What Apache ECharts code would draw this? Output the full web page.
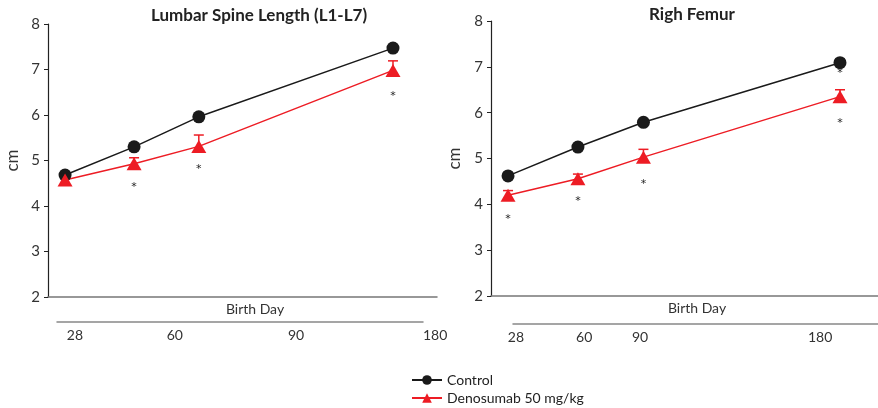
<!DOCTYPE html>
<html>
<head>
<meta charset="utf-8">
<script src="https://cdn.jsdelivr.net/npm/echarts@6/dist/echarts.min.js"></script>
<style>
  html, body { margin: 0; padding: 0; background: #fff; }
  #chart { width: 878px; height: 408px; }
</style>
</head>
<body>
<div id="chart"></div>
<script>
// Days after birth (x values of the points)
const days = [28, 60, 90, 180];
const tickLabels = ['28', '60', '90', '180'];
const groups = ['Control', 'Denosumab 50 mg/kg'];

// Lumbar spine length (cm)
const spineControl = [4.68, 5.30, 5.96, 7.47];
const spineControlErr = [0.03, 0.03, 0.03, 0.03];
const spineDeno = [4.57, 4.93, 5.31, 6.98];
const spineDenoErr = [0.05, 0.13, 0.25, 0.21];
const spineStars = [[60, 4.48], [90, 4.88], [180, 6.48]];

// Right femur length (cm)
const femurControl = [4.62, 5.25, 5.79, 7.09];
const femurControlErr = [0.03, 0.03, 0.03, 0.07];
const femurDeno = [4.20, 4.56, 5.03, 6.35];
const femurDenoErr = [0.10, 0.10, 0.17, 0.15];
const femurStars = [[28, 3.74], [60, 4.14], [90, 4.51], [180, 5.84], [180, 6.93]];

const RED = '#ed1c24';
const BLACK = '#1a1a1a';
const FONT = 'Lato';

// where the day labels sit along the lower label line (fraction of its length)
const spineLabelAt = [0.049, 0.322, 0.653, 1];
const femurLabelAt = [0.008, 0.195, 0.348, 0.808];

function pairs(ys) {
  return days.map((d, i) => [d, ys[i]]);
}

function errData(ys, errs) {
  return days.map((d, i) => [d, ys[i], ys[i] + errs[i]]);
}

function errSeries(ys, errs, color, idx) {
  return {
    type: 'custom',
    name: 'err',
    xAxisIndex: idx,
    yAxisIndex: idx,
    z: 1,
    silent: true,
    data: errData(ys, errs),
    renderItem: function (params, api) {
      const x = api.value(0);
      const p0 = api.coord([x, api.value(1)]);
      const p1 = api.coord([x, api.value(2)]);
      const st = { stroke: color, lineWidth: 1.5 };
      return {
        type: 'group',
        children: [
          { type: 'line', shape: { x1: p0[0], y1: p0[1], x2: p1[0], y2: p1[1] }, style: st },
          { type: 'line', shape: { x1: p1[0] - 5, y1: p1[1], x2: p1[0] + 5, y2: p1[1] }, style: st }
        ]
      };
    }
  };
}

function starSeries(stars, idx) {
  return {
    type: 'custom',
    name: 'stars',
    xAxisIndex: idx,
    yAxisIndex: idx,
    silent: true,
    data: stars,
    renderItem: function (params, api) {
      const p = api.coord([api.value(0), api.value(1)]);
      return {
        type: 'text',
        x: p[0],
        y: p[1] + 3,
        style: { text: '*', fontSize: 11, fill: '#222', align: 'center', verticalAlign: 'middle', fontFamily: 'DejaVu Sans' }
      };
    }
  };
}

function lineSeries(name, ys, color, symbol, size, idx) {
  return {
    type: 'line',
    name: name,
    xAxisIndex: idx,
    yAxisIndex: idx,
    z: 3,
    data: pairs(ys),
    symbol: symbol,
    symbolSize: size,
    showAllSymbol: true,
    lineStyle: { color: color, width: 1.5 },
    itemStyle: { color: color, borderWidth: 0 }
  };
}

function mainX(idx, min, max) {
  return {
    type: 'value', gridIndex: idx, min: min, max: max,
    name: 'Birth Day', nameLocation: 'middle', nameGap: 5,
    nameTextStyle: { fontFamily: FONT, fontSize: 14, color: '#333', padding: [0, 0, 0, 25] },
    axisLine: { lineStyle: { color: '#777', width: 1.5 } },
    axisTick: { show: false }, axisLabel: { show: false }, splitLine: { show: false }
  };
}

function labelX(idx, at) {
  return {
    type: 'value', gridIndex: idx, min: 0, max: 1,
    axisLine: { onZero: false, lineStyle: { color: '#888', width: 1.5 } },
    axisTick: { show: false }, splitLine: { show: false },
    axisLabel: {
      customValues: at,
      alignMaxLabel: 'left',
      margin: 6,
      fontFamily: FONT, fontSize: 14, color: '#333',
      formatter: function (v) { return tickLabels[at.indexOf(v)]; }
    }
  };
}

function mainY(idx, gap) {
  return {
    type: 'value', gridIndex: idx, min: 2, max: 8, interval: 1,
    name: 'cm', nameLocation: 'middle', nameGap: gap,
    nameTextStyle: { fontFamily: FONT, fontSize: 17, color: '#333' },
    axisLine: { show: true, lineStyle: { color: '#222', width: 1.2 } },
    axisTick: { show: true, length: 4, lineStyle: { color: '#222' } },
    axisLabel: { fontFamily: FONT, fontSize: 15, color: '#333', margin: 8 },
    splitLine: { show: false }
  };
}

function hiddenY(idx) {
  return { type: 'value', gridIndex: idx, show: false, min: 0, max: 1 };
}

function legendRow(name, top) {
  return {
    left: 406, top: top,
    itemWidth: 30, itemHeight: 12,
    data: [name],
    textStyle: { fontFamily: FONT, fontSize: 14, color: '#222' }
  };
}

const chart = echarts.init(document.getElementById('chart'));
const option = {
  animation: false,
  backgroundColor: '#fff',
  title: [
    { text: 'Lumbar Spine Length (L1-L7)', left: 254, top: 2, textAlign: 'center',
      textStyle: { fontFamily: FONT, fontSize: 17, fontWeight: 'bold', color: '#222' } },
    { text: 'Righ Femur', left: 687, top: 1, textAlign: 'center',
      textStyle: { fontFamily: FONT, fontSize: 17, fontWeight: 'bold', color: '#222' } }
  ],
  legend: [legendRow(groups[0], 368), legendRow(groups[1], 386)],
  grid: [
    { left: 48, top: 24, width: 389, height: 273 },
    { left: 491, top: 21, width: 387, height: 275 },
    { left: 57, top: 321, width: 366, height: 1 },
    { left: 513, top: 323, width: 365, height: 1 }
  ],
  xAxis: [
    mainX(0, 20.1, 200.4),
    mainX(1, 20.2, 197.4),
    labelX(2, spineLabelAt),
    labelX(3, femurLabelAt)
  ],
  yAxis: [mainY(0, 27), mainY(1, 28), hiddenY(2), hiddenY(3)],
  series: [
    errSeries(spineControl, spineControlErr, BLACK, 0),
    errSeries(spineDeno, spineDenoErr, RED, 0),
    lineSeries(groups[0], spineControl, BLACK, 'circle', 13, 0),
    lineSeries(groups[1], spineDeno, RED, 'triangle', [15, 13], 0),
    starSeries(spineStars, 0),
    errSeries(femurControl, femurControlErr, BLACK, 1),
    errSeries(femurDeno, femurDenoErr, RED, 1),
    lineSeries(groups[0], femurControl, BLACK, 'circle', 13, 1),
    lineSeries(groups[1], femurDeno, RED, 'triangle', [15, 13], 1),
    starSeries(femurStars, 1)
  ]
};
chart.setOption(option);
</script>
</body>
</html>
